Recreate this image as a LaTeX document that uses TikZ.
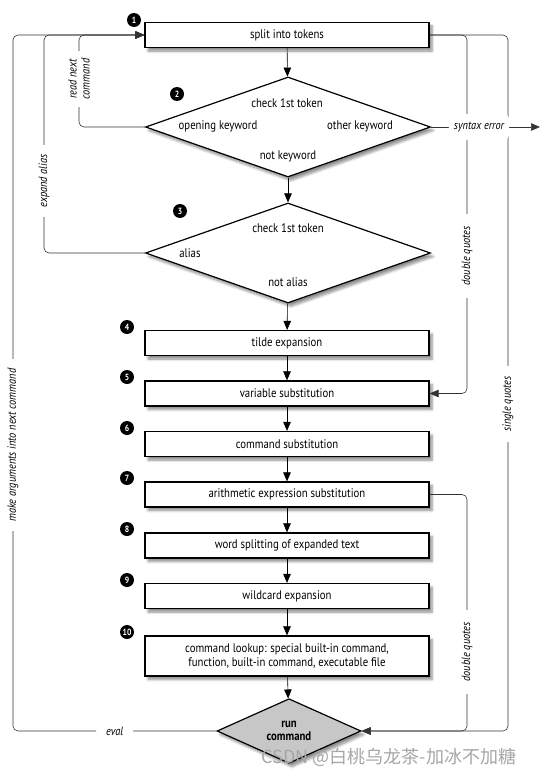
\documentclass[tikz,border=0pt]{standalone}
\usepackage{fontspec}
\setmainfont{PT Sans}[FakeStretch=0.86]
\newfontfamily\cjkfont{Noto Sans CJK SC}
\usetikzlibrary{shapes.geometric, arrows.meta, shadows.blur, positioning}

\begin{document}
\begin{tikzpicture}[x=1pt, y=-1pt,
    softshadow/.style={blur shadow={shadow xshift=3pt, shadow yshift=-3.5pt, shadow blur radius=2.5pt, shadow blur steps=6, shadow opacity=45}},
    stepbox/.style={draw, very thick, fill=white, minimum width=284pt, minimum height=25pt, inner sep=0pt, align=center, font=\fontsize{12.5}{14}\selectfont, softshadow},
    decision/.style={diamond, draw, very thick, fill=white, minimum width=285pt, minimum height=100pt, inner sep=0pt, softshadow},
    dtext/.style={font=\fontsize{12.5}{14}\selectfont, inner sep=1pt},
    badge/.style={circle, fill=black, text=white, font=\bfseries\fontsize{9}{9}\selectfont, minimum size=14pt, inner sep=0pt},
    flow/.style={-{Triangle[length=9pt, width=7.5pt]}, semithick},
    feed/.style={draw=black!80, line width=0.6pt, rounded corners=5pt},
    side/.style={fill=white, font=\itshape\fontsize{12}{13}\selectfont, inner xsep=10pt, inner ysep=1pt, align=center}
]
\useasboundingbox (0,0) rectangle (547,776);

\node[stepbox] (tok) at (287,35) {split into tokens};
\node[badge] (b1) at (134,20) {1};

\node[decision] (kw) at (288,127) {};
\node[badge] (b2) at (177,94) {2};
\node[dtext] (kwq) at (287,103) {check 1st token};
\node[dtext] (kwo) at (218,126) {opening keyword};
\node[dtext] (kwx) at (360,126) {other keyword};
\node[dtext] (kwn) at (288,156) {not keyword};

\node[decision] (al) at (288,253) {};
\node[badge] (b3) at (180,211) {3};
\node[dtext] (alq) at (288,228) {check 1st token};
\node[dtext] (ala) at (190,253) {alias};
\node[dtext] (aln) at (288,282) {not alias};

\node[stepbox] (tilde) at (287,343) {tilde expansion};
\node[badge] (b4) at (127,327) {4};
\node[stepbox] (vars) at (287,393.5) {variable substitution};
\node[badge] (b5) at (127,377) {5};
\node[stepbox] (cmds) at (287,444) {command substitution};
\node[badge] (b6) at (127,428) {6};
\node[stepbox] (arith) at (287,494.5) {arithmetic expression substitution};
\node[badge] (b7) at (127,478) {7};
\node[stepbox] (words) at (287,545.5) {word splitting of expanded text};
\node[badge] (b8) at (127,529) {8};
\node[stepbox] (glob) at (287,596) {wildcard expansion};
\node[badge] (b9) at (127,580) {9};
\node[stepbox, minimum height=40pt] (lookup) at (287,656) {command lookup: special built-in command,\\ function, built-in command, executable file};
\node[badge] (b10) at (127,632) {10};

\node[diamond, draw, very thick, fill=black!22, minimum width=144pt, minimum height=50pt, inner sep=0pt, align=center, font=\bfseries\fontsize{12.5}{13.5}\selectfont, softshadow] (run) at (289,731) {run\\command};

\draw[flow] (tok) -- (kw);
\draw[flow] (kw) -- (al);
\draw[flow] (al) -- (tilde);
\draw[flow] (tilde) -- (vars);
\draw[flow] (vars) -- (cmds);
\draw[flow] (cmds) -- (arith);
\draw[flow] (arith) -- (words);
\draw[flow] (words) -- (glob);
\draw[flow] (glob) -- (lookup);
\draw[flow] (lookup) -- (run);

\coordinate (lx1) at (13,0);
\coordinate (lx2) at (44,0);
\coordinate (lx3) at (79,0);
\coordinate (rx1) at (467,0);
\coordinate (rx2) at (508,0);
\coordinate (err) at (540,127);

\draw[feed, flow] (run.west) -- node[side, pos=0.5] (ev) {eval} (run.west -| lx1) |- (tok.west);
\draw[feed, flow] (al.west) -- (al.west -| lx2) |- (tok.west);
\draw[feed, flow] (kw.west) -- (kw.west -| lx3) |- (tok.west);
\draw[feed, flow] (tok.east) -- (tok.east -| rx1) |- (vars.east);
\draw[feed, flow] (tok.east) -- (tok.east -| rx2) |- (run.east);
\draw[feed, flow] (arith.east) -- (arith.east -| rx1) |- (run.east);

\node[side, rotate=90] (mk) at (13,445) {make arguments into next command};
\node[side, rotate=90] (ea) at (44,181) {expand alias};
\node[side, rotate=90, inner xsep=8pt] (rn) at (79,79) {read next\\ command};
\node[side, rotate=90, inner xsep=12pt] (dq1) at (467,256) {double quotes};
\node[side, rotate=90] (sq) at (508,404) {single quotes};
\node[side, rotate=90, inner xsep=12pt] (dq2) at (467,652) {double quotes};

\draw[feed, flow] (kw.east) -- node[side, pos=0.44, inner xsep=5pt, inner ysep=8pt] (se) {syntax error} (err);

\node[text=black!35, font=\cjkfont\fontsize{18}{18}\selectfont, inner sep=0pt] (wm) at (389,757) {CSDN @白桃乌龙茶-加冰不加糖};
\end{tikzpicture}
\end{document}
